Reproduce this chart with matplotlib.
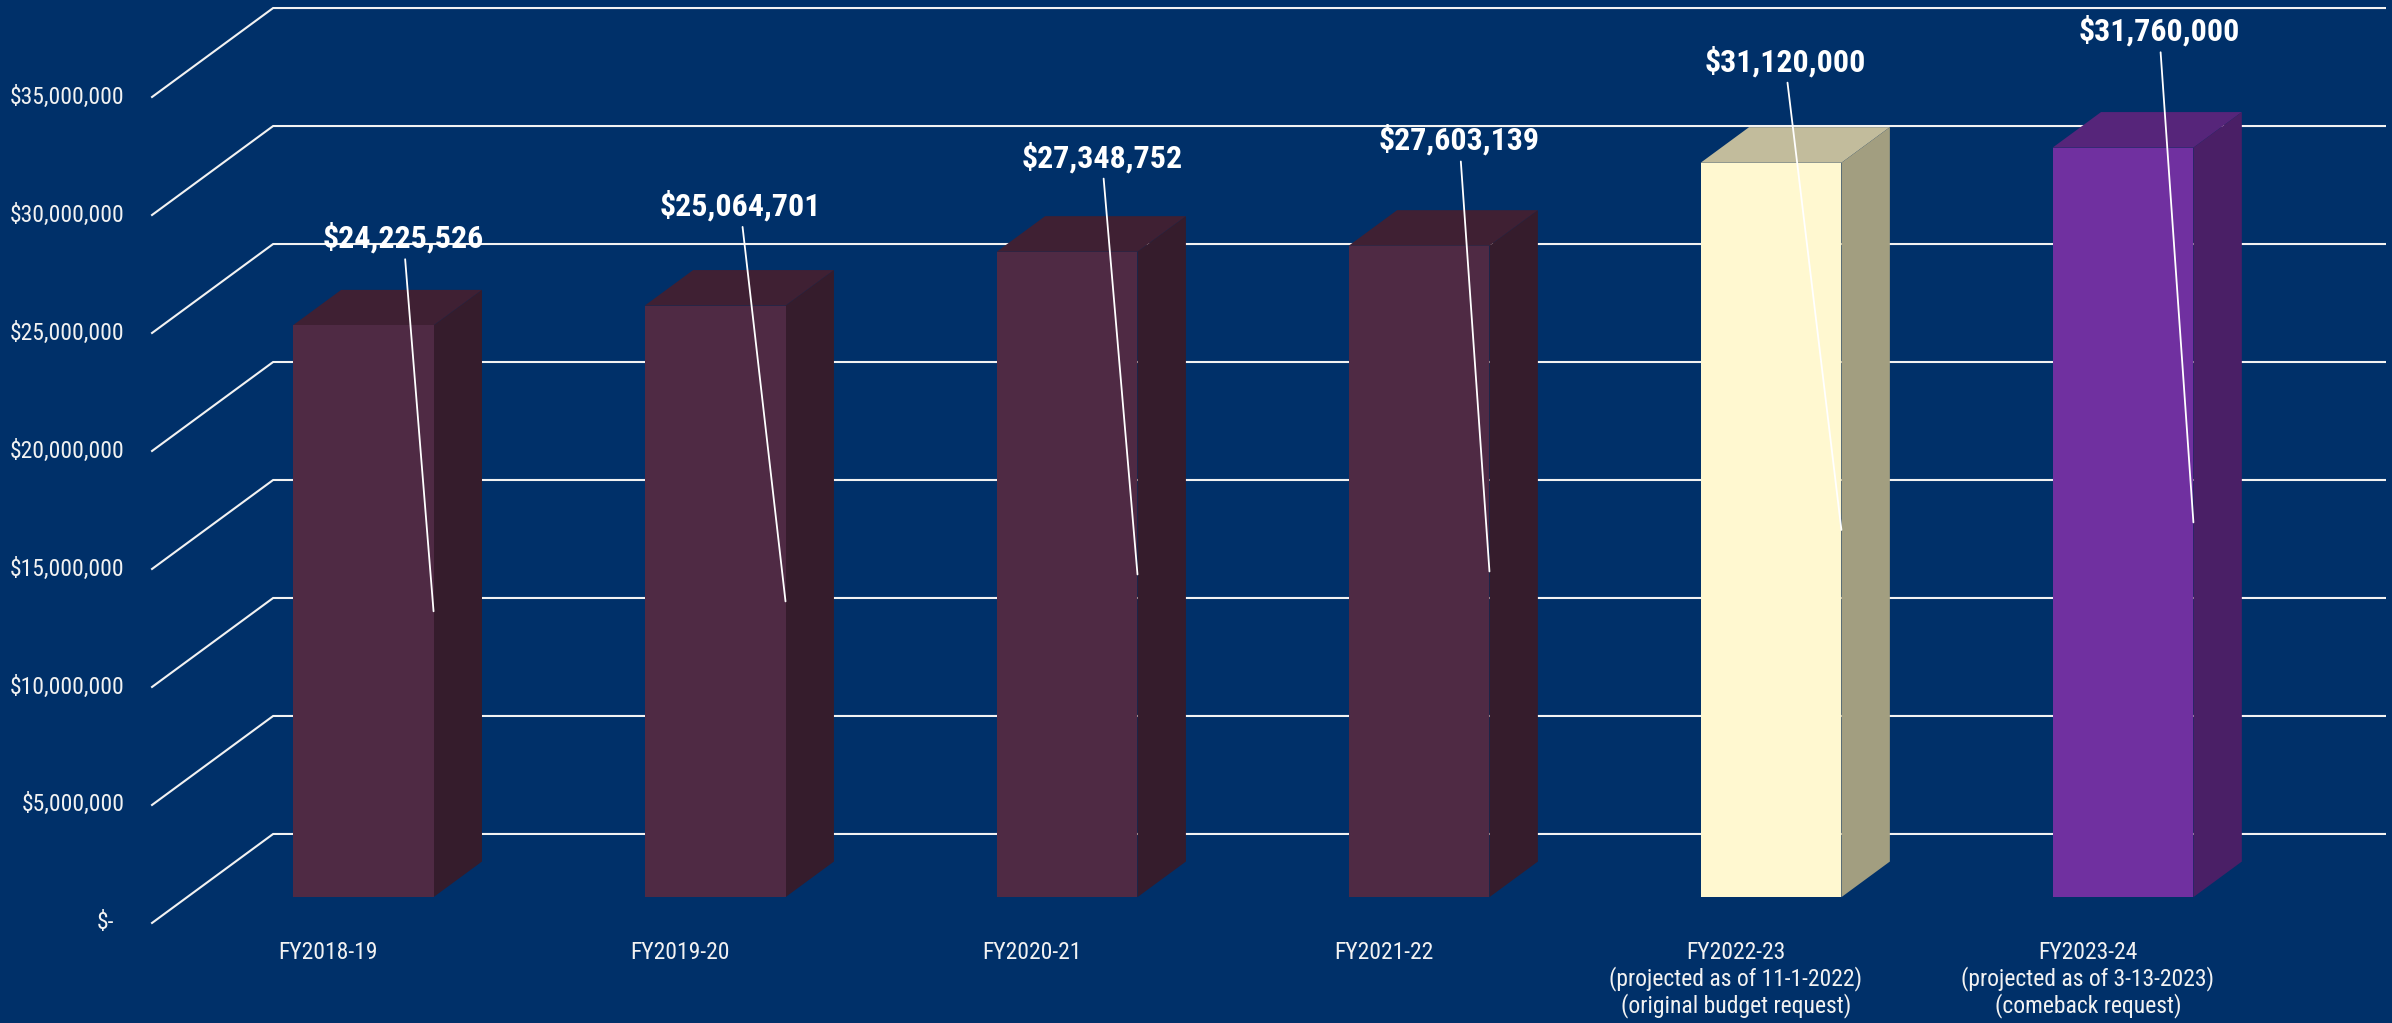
import numpy as np
import matplotlib.pyplot as plt
import matplotlib.transforms as mtransforms
from matplotlib import font_manager as fm
from matplotlib.patches import Polygon

# data
categories = [
    'FY2018-19',
    'FY2019-20',
    'FY2020-21',
    'FY2021-22',
    'FY2022-23\n(projected as of 11-1-2022)\n(original budget request)',
    'FY2023-24\n(projected as of 3-13-2023)\n(comeback request)',
]
values = [24225526, 25064701, 27348752, 27603139, 31120000, 31760000]
grid_values = [0, 5000000, 10000000, 15000000, 20000000, 25000000, 30000000, 35000000]
tick_labels = ['$-', '$5,000,000', '$10,000,000', '$15,000,000', '$20,000,000',
               '$25,000,000', '$30,000,000', '$35,000,000']

# styling
BG = '#003069'
GRID = '#F2F2F2'
front_colors = ['#4F2A44'] * 4 + ['#FFF8D0', '#7030A0']
top_colors = ['#3F2033'] * 4 + ['#C2BC9C', '#56257A']
side_colors = ['#351C2C'] * 4 + ['#A29E80', '#4A1F66']
# value label position (points) relative to the top of each bar's front face
label_offsets = [(29, 63), (18, 72), (25, 68), (29, 76), (10, 73), (26, 84)]

# fake 3d: full depth of the floor, expressed in data units
DX = 0.344
DY = 3.77e6
Z0, Z1 = 0.29, 0.69
BAR_W = 0.4
X_LEFT, X_RIGHT = -0.5, 5.5


def find_narrow(bold):
    # the chart uses Arial Narrow; look for any condensed sans face installed
    prefer = ['Liberation Sans Narrow', 'Arial Narrow', 'Roboto Condensed',
              'Noto Sans Condensed', 'Noto Sans', 'Open Sans Condensed', 'Open Sans',
              'DejaVu Sans Condensed', 'DejaVu Sans']
    want = 700 if bold else 400
    best = None
    for f in fm.fontManager.ttflist:
        if f.style != 'normal':
            continue
        narrow = ('Narrow' in f.name or 'Condensed' in f.name
                  or str(f.stretch) in ('condensed', 'semi-condensed'))
        if not narrow or f.name not in prefer:
            continue
        w = f.weight if isinstance(f.weight, int) else fm.weight_dict.get(f.weight, 400)
        score = (prefer.index(f.name), abs(w - want), 0 if str(f.stretch) == 'condensed' else 1)
        if best is None or score < best[0]:
            best = (score, f.fname)
    if best is None:
        return None
    return best[1]


narrow_reg = find_narrow(False)
narrow_bold = find_narrow(True)
if narrow_reg:
    fp_reg = fm.FontProperties(fname=narrow_reg)
    fp_bold = fm.FontProperties(fname=narrow_bold)
    size_reg, size_val = 17, 23
else:
    fp_reg = fm.FontProperties(family='Liberation Sans')
    fp_bold = fm.FontProperties(family='Liberation Sans', weight='bold')
    size_reg, size_val = 14, 19


def proj(x, v, z):
    return x + z * DX, v + z * DY


fig = plt.figure(figsize=(23.92, 10.23), dpi=100)
fig.patch.set_facecolor(BG)
ax = fig.add_axes([0, 0, 1, 1])
ax.set_facecolor(BG)
ax.set_xlim(-0.932, 5.864)
ax.set_ylim(-4.24e6, 39.11e6)
ax.axis('off')

# gridlines: floor diagonal + back wall
for v, lab in zip(grid_values, tick_labels):
    x0, y0 = proj(X_LEFT, v, 0)
    x1, y1 = proj(X_LEFT, v, 1)
    x2, y2 = proj(X_RIGHT, v, 1)
    ax.plot([x0, x1, x2], [y0, y1, y2], color=GRID, lw=1.5, zorder=1,
            solid_joinstyle='miter')
    off = -27 if v == 0 else -20
    ax.annotate(lab, xy=(x0, y0), xytext=(off, 0), textcoords='offset points',
                ha='right', va='center', fontproperties=fp_reg, fontsize=size_reg, color=GRID)

x = np.arange(len(values))
left = x - BAR_W / 2 + Z0 * DX
depth_x = (Z1 - Z0) * DX
depth_y = (Z1 - Z0) * DY

ax.bar(left, values, width=BAR_W, bottom=Z0 * DY, align='edge',
       color=front_colors, zorder=3, lw=0)

for i, v in enumerate(values):
    l, r = left[i], left[i] + BAR_W
    b = Z0 * DY
    t = v + Z0 * DY
    top = Polygon([(l, t), (r, t), (r + depth_x, t + depth_y), (l + depth_x, t + depth_y)],
                  closed=True, facecolor=top_colors[i], lw=0, zorder=2)
    side = Polygon([(r, b), (r + depth_x, b + depth_y), (r + depth_x, t + depth_y), (r, t)],
                   closed=True, facecolor=side_colors[i], lw=0, zorder=2)
    ax.add_patch(top)
    ax.add_patch(side)

    # value label with leader line to the middle of the front face edge
    dx, dy = label_offsets[i]
    trans = mtransforms.offset_copy(ax.transData, fig=fig, x=dx, y=dy, units='points')
    ax.annotate(f'${v:,}', xy=(r, v / 2 + b), xycoords='data',
                xytext=(l + BAR_W / 2, t), textcoords=trans,
                ha='center', va='center', fontproperties=fp_bold, fontsize=size_val,
                color='white',
                arrowprops=dict(arrowstyle='-', color='white', lw=1.3, shrinkA=2, shrinkB=0),
                zorder=5)

# category labels along the front edge of the floor
for i, cat in enumerate(categories):
    ax.annotate(cat, xy=(i, 0), xytext=(0, -13), textcoords='offset points',
                ha='center', va='top', fontproperties=fp_reg, fontsize=size_reg,
                color=GRID, linespacing=1.12)

fig.savefig('out.png', dpi=100, facecolor=BG)
